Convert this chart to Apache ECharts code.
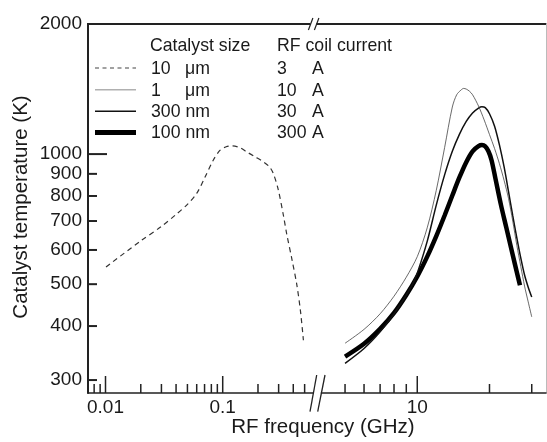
<!DOCTYPE html>
<html><head><meta charset="utf-8">
<script src="https://cdn.jsdelivr.net/npm/echarts@6/dist/echarts.min.js"></script>
<style>html,body{margin:0;padding:0;background:#fff}#c{width:547px;height:442px}</style>
</head><body><div id="c"></div>
<script>
// ---- data ----
const freq10um = [0.0101, 0.02, 0.03, 0.04, 0.05, 0.06, 0.07, 0.083, 0.095, 0.107, 0.119, 0.14, 0.16, 0.19, 0.222, 0.25, 0.27, 0.297, 0.33, 0.351, 0.39, 0.428, 0.46, 0.488];
const temp10um = [548, 630, 680, 725, 765, 811, 880, 968, 1021, 1040, 1045, 1035, 1012, 985, 960, 935, 902, 830, 720, 655, 570, 500, 435, 371];

const freq1um = [5.0, 6.0, 7.0, 8.0, 9.0, 10.0, 11.0, 12.0, 13.0, 14.0, 14.6, 15.2, 15.6, 16.0, 16.5, 17.0, 18.0, 19.0, 20.0, 21.0, 22.0, 23.0, 24.0, 25.0, 26.0, 27.0, 28.0, 29.0, 30.0];
const temp1um = [365, 393, 427, 469, 519, 579, 675, 824, 1035, 1285, 1372, 1406, 1419, 1414, 1398, 1372, 1292, 1200, 1110, 1030, 950, 870, 790, 700, 615, 550, 495, 455, 420];

const freq300nm = [5.0, 6.0, 7.0, 8.0, 9.0, 9.6, 10.0, 11.0, 12.0, 13.0, 14.0, 15.0, 16.0, 17.0, 18.0, 18.6, 19.2, 20.0, 21.0, 22.0, 23.0, 24.0, 25.0, 26.0, 27.0, 28.0, 29.0, 30.0];
const temp300nm = [328, 355, 388, 427, 472, 502, 530, 628, 762, 895, 1015, 1112, 1190, 1245, 1278, 1287, 1281, 1240, 1160, 1050, 935, 820, 720, 640, 575, 525, 492, 467];

const freq100nm = [5.0, 6.0, 7.0, 8.0, 9.0, 10.0, 11.0, 12.0, 13.0, 14.0, 15.0, 16.0, 17.0, 18.0, 18.6, 19.2, 19.8, 20.4, 21.2, 22.3, 23.5, 25.0, 26.0, 26.8];
const temp100nm = [340, 364, 394, 429, 472, 521, 579, 646, 721, 802, 884, 958, 1015, 1043, 1049, 1042, 1015, 968, 875, 765, 676, 584, 533, 497];

// tick values / labels
const yTickValues = [300, 400, 500, 600, 700, 800, 900, 1000, 2000];
const yTickLabels = ['300', '400', '500', '600', '700', '800', '900', '1000', '2000'];
const yMajorTicks = [1000];
const yMinorTicks = [300, 400, 500, 600, 700, 800, 900];
const xLeftMajor = [0.01, 0.1];
const xLeftLabels = ['0.01', '0.1'];
const xLeftMinor = [0.008, 0.009, 0.02, 0.03, 0.04, 0.05, 0.06, 0.07, 0.08, 0.09, 0.2, 0.3, 0.4, 0.5];
const xRightMajor = [10];
const xRightLabels = ['10'];
const xRightMinor = [5, 6, 7, 8, 9, 20, 30];

// legend text
const legendSizeNum = ['10', '1', '300 nm', '100 nm'];
const legendSizeUnit = ['μm', 'μm', '', ''];
const legendCurrentNum = ['3', '10', '30', '300'];
const legendCurrentUnit = ['A', 'A', 'A', 'A'];

const FONT = '"Liberation Sans", Arial, Helvetica, sans-serif';
const zip = (a, b) => a.map((v, i) => [v, b[i]]);

const styles = {
  d10um: { color: '#333', width: 1.2, type: [5, 4] },
  d1um: { color: '#444', width: 0.8, type: 'solid' },
  d300: { color: '#111', width: 1.5, type: 'solid' },
  d100: { color: '#000', width: 4.5, type: 'solid' }
};
const legendStyles = [
  { stroke: '#444', lineWidth: 1.2, lineDash: [4, 3.5] },
  { stroke: '#b0b0b0', lineWidth: 1.6 },
  { stroke: '#111', lineWidth: 1.6 },
  { stroke: '#000', lineWidth: 5 }
];

const chart = echarts.init(document.getElementById('c'), null, { renderer: 'canvas' });
const axisOff = { axisTick: { show: false }, axisLabel: { show: false }, splitLine: { show: false } };
const option = {
  animation: false,
  backgroundColor: '#fff',
  grid: [
    { left: 88, top: 24, width: 225.4, height: 369 },
    { left: 321.4, top: 24, width: 224.6, height: 369 }
  ],
  xAxis: [
    Object.assign({ type: 'log', gridIndex: 0, min: 0.00709, max: 0.594,
      axisLine: { show: true, onZero: false, lineStyle: { color: '#222', width: 1.5 } } }, axisOff),
    Object.assign({ type: 'log', gridIndex: 1, min: 3.985, max: 34.4,
      axisLine: { show: true, onZero: false, lineStyle: { color: '#222', width: 1.5 } } }, axisOff)
  ],
  yAxis: [
    Object.assign({ type: 'log', gridIndex: 0, min: 280, max: 2000,
      axisLine: { show: true, onZero: false, lineStyle: { color: '#222', width: 2 } } }, axisOff),
    Object.assign({ type: 'log', gridIndex: 1, min: 280, max: 2000, position: 'right',
      axisLine: { show: true, onZero: false, lineStyle: { color: '#bbb', width: 1 } } }, axisOff)
  ],
  series: [
    { type: 'line', xAxisIndex: 0, yAxisIndex: 0, data: zip(freq10um, temp10um), showSymbol: false, smooth: 0.3,
      lineStyle: styles.d10um },
    { type: 'line', xAxisIndex: 1, yAxisIndex: 1, data: zip(freq100nm, temp100nm), showSymbol: false, smooth: 0.3,
      lineStyle: styles.d100 },
    { type: 'line', xAxisIndex: 1, yAxisIndex: 1, data: zip(freq300nm, temp300nm), showSymbol: false, smooth: 0.3,
      lineStyle: styles.d300 },
    { type: 'line', xAxisIndex: 1, yAxisIndex: 1, data: zip(freq1um, temp1um), showSymbol: false, smooth: 0.3,
      lineStyle: styles.d1um }
  ]
};
chart.setOption(option);

const px = (ai, v) => chart.convertToPixel({ xAxisIndex: ai }, v);
const py = v => chart.convertToPixel({ yAxisIndex: 0 }, v);
const g = [];
const line = (x1, y1, x2, y2, st) => g.push({ type: 'line', shape: { x1, y1, x2, y2 }, style: Object.assign({ stroke: '#222', lineWidth: 1.5 }, st || {}) });
const text = (x, y, t, size, align, valign, extra) => g.push(Object.assign({ type: 'text', x, y,
  style: { text: t, fontSize: size, fontFamily: FONT, fill: '#1a1a1a', align, verticalAlign: valign } }, extra || {}));

const axX = px(0, 0.00709);
const leftEnd = px(0, 0.594);
const rightStart = px(1, 3.985);
const rightEnd = px(1, 34.4);
const yBot = py(280);
const yTop = py(2000);

// y ticks & labels
yMajorTicks.forEach(v => line(axX, py(v), axX + 19, py(v), { lineWidth: 2 }));
yMinorTicks.forEach(v => line(axX, py(v), axX + 9, py(v), { lineWidth: 2 }));
yTickValues.forEach((v, i) => text(axX - 6, py(v), yTickLabels[i], 19, 'right', 'middle'));

// x ticks & labels
xLeftMajor.forEach((v, i) => { line(px(0, v), yBot, px(0, v), yBot - 17); text(px(0, v), yBot + 5, xLeftLabels[i], 19, 'center', 'top'); });
xLeftMinor.forEach(v => line(px(0, v), yBot, px(0, v), yBot - 9));
xRightMajor.forEach((v, i) => { line(px(1, v), yBot, px(1, v), yBot - 17); text(px(1, v), yBot + 5, xRightLabels[i], 19, 'center', 'top'); });
xRightMinor.forEach(v => line(px(1, v), yBot, px(1, v), yBot - 9));

// top frame with break
line(axX - 1, yTop, leftEnd - 3, yTop, { lineWidth: 2 });
line(leftEnd + 3, yTop, rightEnd + 0.5, yTop, { lineWidth: 2 });
line(leftEnd - 0.5, yTop - 6, leftEnd - 5, yTop + 6, { lineWidth: 1.2 });
line(leftEnd + 5.5, yTop - 6, leftEnd + 1, yTop + 6, { lineWidth: 1.2 });
// bottom break marks
line(leftEnd + 3.3, yBot - 18, leftEnd - 3.4, yBot + 18.7, { lineWidth: 1.3 });
line(rightStart + 3.6, yBot - 18, rightStart - 3.7, yBot + 18.7, { lineWidth: 1.3 });

// axis titles
text(323, 427, 'RF frequency (GHz)', 20.5, 'center', 'middle');
text(21, 207, 'Catalyst temperature (K)', 20.5, 'center', 'middle', { rotation: Math.PI / 2 });

// legend
const rowY = [69, 90.7, 112.3, 133.5];
text(150, 46.5, 'Catalyst size', 17.7, 'left', 'middle');
text(277, 46.5, 'RF coil current', 17.7, 'left', 'middle');
rowY.forEach((y, i) => {
  g.push({ type: 'line', shape: { x1: 95, y1: y - 1, x2: 136, y2: y - 1 }, style: legendStyles[i] });
  text(151, y, legendSizeNum[i], 17.7, 'left', 'middle');
  if (legendSizeUnit[i]) text(185, y, legendSizeUnit[i], 17.7, 'left', 'middle');
  text(277, y, legendCurrentNum[i], 17.7, 'left', 'middle');
  text(312, y, legendCurrentUnit[i], 17.7, 'left', 'middle');
});

chart.setOption({ graphic: g });
</script>
</body></html>
